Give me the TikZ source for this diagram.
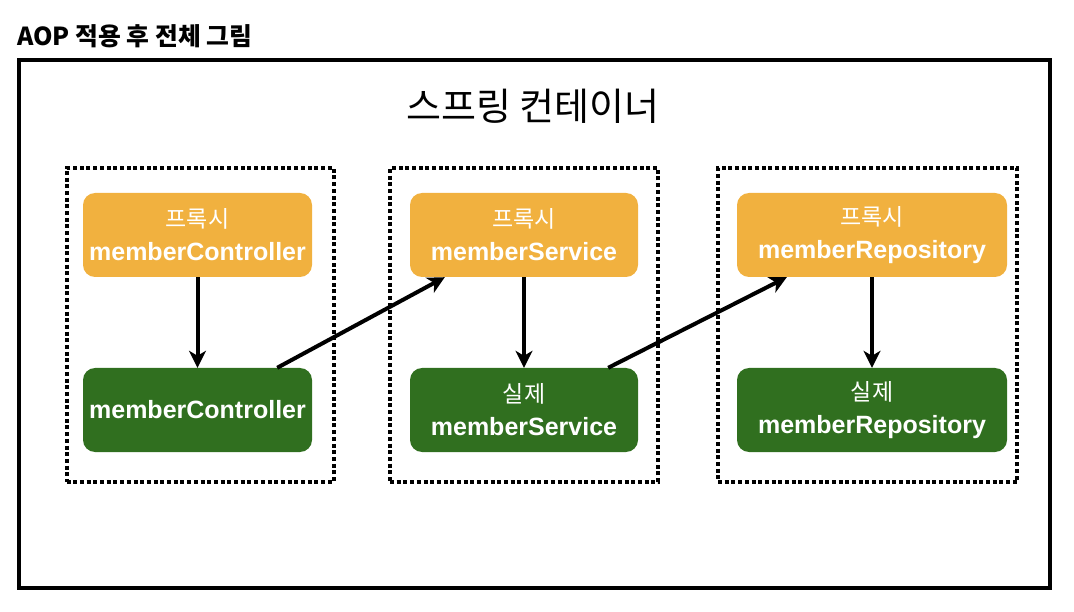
\documentclass[tikz,border=0pt]{standalone}
\usepackage{fontspec}
\setmainfont{Liberation Sans}
\newfontfamily\kr{Noto Sans CJK KR}
\usetikzlibrary{arrows.meta}
\definecolor{proxyorange}{HTML}{F1B13F}
\definecolor{realgreen}{HTML}{306F1F}
\newcommand{\krline}[1]{{\kr\mdseries\fontsize{23}{33}\selectfont #1}}
\begin{document}
\begin{tikzpicture}[x=1pt,y=-1pt,
    bean/.style={rounded corners=12pt,text=white,align=center,minimum height=84pt,
        font=\bfseries\fontsize{25}{33}\selectfont,inner sep=0pt},
    proxybean/.style={bean,fill=proxyorange},
    realbean/.style={bean,fill=realgreen},
    group/.style={draw,line width=4pt,dash pattern=on 4pt off 2.7pt,minimum height=314pt},
    call/.style={line width=4pt,-{Stealth[length=17pt,width=17pt,inset=5pt]}}]
        \useasboundingbox (0,0) rectangle (1074,612);
        %% Title
        \node[anchor=west,inner sep=0pt] (title) at (17,36) {\kr\bfseries\fontsize{24.8}{28}\selectfont AOP 적용 후 전체 그림};
        %% Container
        \draw[line width=3.5pt] (19,60) rectangle (1050,588);
        \node (container) at (533,106) {\kr\fontsize{38}{44}\selectfont 스프링 컨테이너};
        %% Groups
        \node[group,minimum width=267pt] (ctrlGroup) at (200,325) {};
        \node[group,minimum width=268pt] (svcGroup) at (524,325) {};
        \node[group,minimum width=299pt] (repoGroup) at (867.5,325) {};
        %% Beans
        \node[proxybean,minimum width=229pt] (proxyCtrl) at (197.5,235) {\krline{프록시}\\memberController};
        \node[realbean,minimum width=229pt] (realCtrl) at (197.5,410) {memberController};
        \node[proxybean,minimum width=228pt] (proxySvc) at (524,235) {\krline{프록시}\\memberService};
        \node[realbean,minimum width=228pt] (realSvc) at (524,410) {\krline{실제}\\memberService};
        \node[proxybean,minimum width=270pt] (proxyRepo) at (872,235) {\krline{프록시}\\memberRepository};
        \node[realbean,minimum width=270pt] (realRepo) at (872,410) {\krline{실제}\\memberRepository};
        %% Calls
        \draw[call] (proxyCtrl) -- (realCtrl);
        \draw[call] (proxySvc) -- (realSvc);
        \draw[call] (proxyRepo) -- (realRepo);
        \draw[call] ([xshift=-35pt]realCtrl.north east) -- ([xshift=35pt]proxySvc.south west);
        \draw[call] ([xshift=-30pt]realSvc.north east) -- ([xshift=50pt]proxyRepo.south west);
    \end{tikzpicture}
\end{document}
